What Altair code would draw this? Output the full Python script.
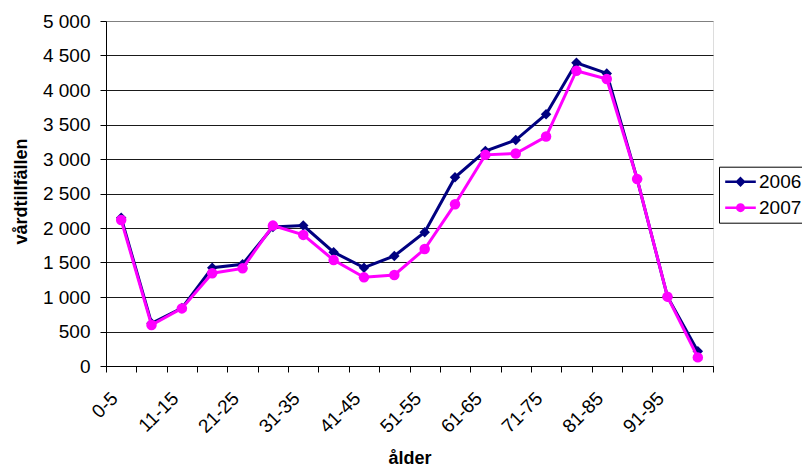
import json
import altair as alt
import pandas as pd

# ---- data ----
age_groups = ['0-5', '6-10', '11-15', '16-20', '21-25', '26-30', '31-35', '36-40',
              '41-45', '46-50', '51-55', '56-60', '61-65', '66-70', '71-75', '76-80',
              '81-85', '86-90', '91-95', '96+']
visits_2006 = [2150, 620, 840, 1425, 1475, 2015, 2035, 1650, 1425, 1595,
               1940, 2735, 3115, 3275, 3650, 4395, 4240, 2710, 1005, 215]
visits_2007 = [2115, 595, 835, 1345, 1415, 2035, 1900, 1535, 1285, 1320,
               1695, 2345, 3060, 3080, 3325, 4280, 4160, 2710, 1005, 125]
years = ['2006', '2007']
y_ticks = list(range(0, 5001, 500))
shown_x_labels = age_groups[::2]

colors = ['#000080', '#FF00FF']
marker_shapes = ['diamond', 'circle']


def circle_path(r):
    k = round(r * 0.5523, 4)
    return ("M{r},0C{r},{k} {k},{r} 0,{r}C-{k},{r} -{r},{k} -{r},0"
            "C-{r},-{k} -{k},-{r} 0,-{r}C{k},-{r} {r},-{k} {r},0Z").format(r=r, k=k)


def diamond_path(r):
    return "M0,-{r}L{r},0L0,{r}L-{r},0Z".format(r=r)


legend_paths = [
    "M-1.7,0H1.7" + diamond_path(0.38) + diamond_path(0.16),
    "M-1.7,0H1.7" + circle_path(0.36) + circle_path(0.15),
]

rows = []
for yr, vals in zip(years, [visits_2006, visits_2007]):
    for i, (a, v) in enumerate(zip(age_groups, vals)):
        rows.append({'age': a, 'idx': i, 'year': yr, 'value': v})
df = pd.DataFrame(rows)

FONT = 'Liberation Sans'

x_enc = alt.X(
    'age:N', bandPosition=0.5,
    scale=alt.Scale(type='band', domain=age_groups, paddingInner=0, paddingOuter=0),
    axis=alt.Axis(
        title='ålder', tickBand='extent', grid=False,
        labelAngle=315, labelAlign='right', labelBaseline='middle',
        labelPadding=23, labelOffset=-7, labelOverlap=False, labelFontSize=19,
        labelFont=FONT, labelColor='black',
        labelExpr="indexof(" + json.dumps(shown_x_labels) + ", datum.value) >= 0 ? datum.label : ''",
        tickSize=6, tickColor='black', domainColor='black',
        titleFont=FONT, titleFontSize=18, titleFontWeight='bold', titleColor='black',
        titleX=303.5, titleY=97, titleBaseline='alphabetic', titleAlign='center',
    ),
)
y_enc = alt.Y(
    'value:Q',
    scale=alt.Scale(domain=[0, 5000], nice=False, zero=True),
    axis=alt.Axis(
        title='vårdtillfällen', values=y_ticks,
        labelExpr="replace(format(datum.value, ','), ',', ' ')",
        labelFont=FONT, labelFontSize=19, labelColor='black', labelPadding=10,
        tickSize=6, tickColor='black', domainColor='black',
        grid=True,
        gridColor={'condition': {'test': 'datum.value == 5000', 'value': '#808080'},
                   'value': '#1a1a1a'},
        titleFont=FONT, titleFontSize=18, titleFontWeight='bold', titleColor='black',
        titleAngle=270, titleX=-79.5, titleY=170, titleBaseline='alphabetic',
        titleAlign='center',
    ),
)

legend_props = dict(
    title=None, orient='none', legendX=613, legendY=145.7, padding=4.5, rowPadding=5,
    strokeColor='black', fillColor='white', symbolSize=324, symbolStrokeWidth=2.5,
    symbolOffset=6.5, labelOffset=8, labelFont=FONT, labelFontSize=19,
    labelColor='black', symbolOpacity=1, cornerRadius=0,
)

base = alt.Chart(df)
series_layers = []
for yr, col, shp in zip(years, colors, marker_shapes):
    sub = base.transform_filter(alt.datum.year == yr)
    series_layers.append(
        sub.mark_line(strokeWidth=3, color=col).encode(
            x=x_enc, y=y_enc, order=alt.Order('idx:Q')))
    series_layers.append(
        sub.mark_point(filled=True, size=110, opacity=1, shape=shp, color=col).encode(
            x=x_enc, y=y_enc))

legend_layer = base.transform_filter('false').mark_point(
    filled=False, opacity=1, strokeWidth=2.5).encode(
    color=alt.Color('year:N', scale=alt.Scale(domain=years, range=colors),
                    legend=alt.Legend(**legend_props)),
    shape=alt.Shape('year:N', scale=alt.Scale(domain=years, range=legend_paths),
                    legend=alt.Legend(**legend_props)),
)

chart = alt.layer(*series_layers, legend_layer).properties(
    width=607, height=345,
    padding={'left': 98, 'top': 13, 'right': 89, 'bottom': 101},
    autosize=alt.AutoSizeParams(type='none'),
).configure_view(
    stroke='#808080', strokeWidth=1
).configure(background='white')

chart.save("out.html", embed_options={"renderer": "svg", "actions": False})
